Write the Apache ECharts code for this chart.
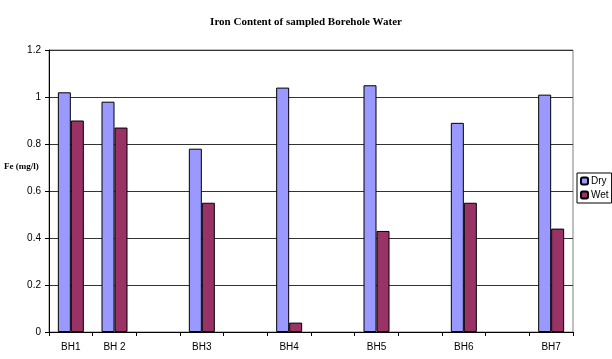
<!DOCTYPE html>
<html>
<head>
<meta charset="utf-8">
<script src="https://cdn.jsdelivr.net/npm/echarts@6/dist/echarts.min.js"></script>
<style>
html, body { margin: 0; padding: 0; background: #fff; }
#chart-container { width: 612px; height: 359px; }
</style>
</head>
<body>
<div id="chart-container"></div>
<script>
// categories (empty slots are the gaps between boreholes)
var categories = ['BH1', 'BH 2', '', 'BH3', '', 'BH4', '', 'BH5', '', 'BH6', '', 'BH7'];
var dryValues = [1.02, 0.98, null, 0.78, null, 1.04, null, 1.05, null, 0.89, null, 1.01];
var wetValues = [0.90, 0.87, null, 0.55, null, 0.04, null, 0.43, null, 0.55, null, 0.44];
var yTicks = [0, 0.2, 0.4, 0.6, 0.8, 1, 1.2];

var dom = document.getElementById('chart-container');
var myChart = echarts.init(dom, null, { renderer: 'canvas' });

var option = {
    animation: false,
    backgroundColor: '#fff',
    title: {
        text: 'Iron Content of sampled Borehole Water',
        left: 'center',
        top: 12,
        textStyle: {
            fontFamily: 'Liberation Serif',
            fontSize: 11,
            fontWeight: 'bold',
            color: '#000'
        }
    },
    graphic: [{
        type: 'text',
        left: 4,
        top: 162,
        style: {
            text: 'Fe (mg/l)',
            font: 'bold 9px "Liberation Serif"',
            fill: '#000'
        }
    }],
    grid: {
        left: 49,
        right: 39,
        top: 50,
        bottom: 27,
        outerBoundsMode: 'none',
        containLabel: false,
        show: true,
        borderColor: '#808080',
        borderWidth: 1
    },
    legend: {
        orient: 'vertical',
        left: 577,
        top: 173,
        itemWidth: 7,
        itemHeight: 7,
        itemGap: 4,
        padding: [3, 3, 3, 3],
        borderColor: '#000',
        borderWidth: 1,
        textStyle: { fontFamily: 'Liberation Sans', fontSize: 10, color: '#000', padding: [0, 0, 0, -2] },
        data: ['Dry', 'Wet']
    },
    xAxis: {
        type: 'category',
        data: categories,
        axisLine: { lineStyle: { color: '#000' } },
        axisTick: { show: true, length: 4, lineStyle: { color: '#000' } },
        axisLabel: {
            fontFamily: 'Liberation Sans',
            fontSize: 10,
            color: '#000',
            margin: 10,
            interval: 0
        }
    },
    yAxis: {
        type: 'value',
        min: yTicks[0],
        max: yTicks[yTicks.length - 1],
        interval: 0.2,
        axisLine: { show: true, lineStyle: { color: '#000' } },
        axisTick: { show: true, length: 4, lineStyle: { color: '#000' } },
        axisLabel: {
            fontFamily: 'Liberation Sans',
            fontSize: 10,
            color: '#000',
            margin: 8,
            formatter: function (v) { return String(Math.round(v * 10) / 10); }
        },
        splitLine: { lineStyle: { color: '#333', width: 1 } }
    },
    series: [
        {
            name: 'Dry',
            type: 'bar',
            data: dryValues,
            barWidth: 13,
            barGap: '0%',
            itemStyle: { color: '#9999FF', borderColor: '#000', borderWidth: 1 }
        },
        {
            name: 'Wet',
            type: 'bar',
            data: wetValues,
            barWidth: 13,
            itemStyle: { color: '#993366', borderColor: '#000', borderWidth: 1 }
        }
    ]
};

myChart.setOption(option);
window.addEventListener('resize', myChart.resize);
</script>
</body>
</html>
